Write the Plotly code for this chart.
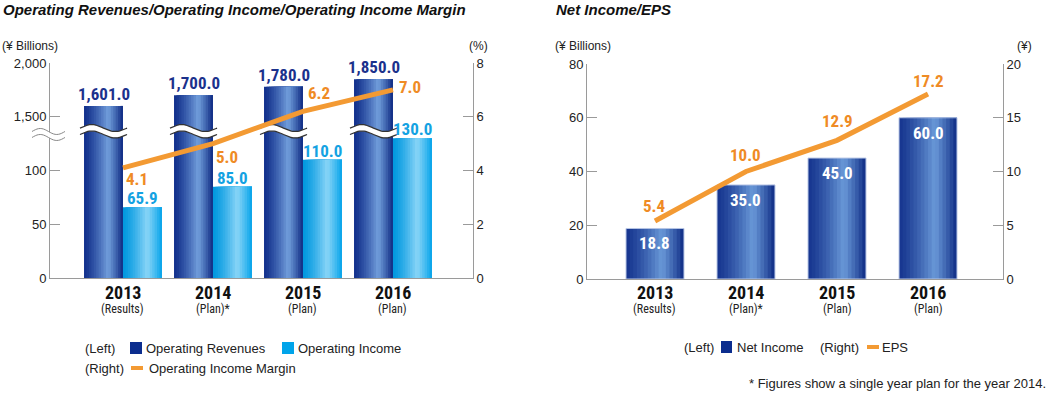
import math
import plotly.graph_objects as go

# ---------------- data ----------------
years = ["2013", "2014", "2015", "2016"]
year_notes = ["(Results)", "(Plan)*", "(Plan)", "(Plan)"]
op_revenues = [1601.0, 1700.0, 1780.0, 1850.0]
op_income = [65.9, 85.0, 110.0, 130.0]
op_margin = [4.1, 5.0, 6.2, 7.0]
net_income = [18.8, 35.0, 45.0, 60.0]
eps = [5.4, 10.0, 12.9, 17.2]

left_tick_values = [0, 50, 100, 1500, 2000]
left_tick_labels = ["0", "50", "100", "1,500", "2,000"]
margin_ticks = [0, 2, 4, 6, 8]
ni_ticks = [0, 20, 40, 60, 80]
eps_ticks = [0, 5, 10, 15, 20]

# ---------------- styles ----------------
W, H = 1050, 395
NARROW = "Liberation Sans Narrow, Arial Narrow, Roboto Condensed, Liberation Sans, Arial"
REG = "Liberation Sans, Arial, Helvetica"
AX = "#9a9a9a"
NAVY_TXT = "#1b318c"
CYAN_TXT = "#14a2e2"
ORANGE = "#f39a33"
ORANGE_TXT = "#ef8b25"

xpos = list(range(len(years)))


def brk(v):
    """Broken left scale: 0-100 on the lower part, 1,500-2,000 on the upper part."""
    return v / 50.0 if v < 1000 else 3.0 + (v - 1500.0) / 500.0


def py(px):
    return 1 - px / H


def px_x(px):
    return px / W


def hex2rgb(h):
    h = h.lstrip("#")
    return [int(h[i:i + 2], 16) for i in (0, 2, 4)]


def mix(c1, c2, f):
    a, b = hex2rgb(c1), hex2rgb(c2)
    return "rgb(%d,%d,%d)" % tuple(round(a[i] + (b[i] - a[i]) * f) for i in range(3))


fig = go.Figure()


def gradient_bars(x, y, off, width, left, peak, right, xa, ya, p=0.62, n=16):
    start = off - width / 2
    dw = width / n
    for k in range(n):
        t = (k + 0.5) / n
        if t <= p:
            col = mix(left, peak, (t / p) ** 1.3)
        else:
            col = mix(right, peak, ((1 - t) / (1 - p)) ** 0.9)
        fig.add_trace(go.Bar(
            x=x, y=y, offset=start + k * dw, width=width - k * dw,
            marker=dict(color=col, line=dict(width=0)),
            xaxis=xa, yaxis=ya, showlegend=False, hoverinfo="skip"))


# ---------------- left chart ----------------
LX0, LX1 = -0.811, 3.889
BW = 0.433
rev_disp = [brk(v) for v in op_revenues]
inc_disp = [brk(v) for v in op_income]
gradient_bars(xpos, rev_disp, -BW / 2, BW, "#12308c", "#729fdc", "#0a2680", "x", "y")
gradient_bars(xpos, inc_disp, BW / 2, BW, "#0098e0", "#8ad5f7", "#00a2ea", "x", "y")

# break marks across the revenue bars (drawn in data units)
BRK_Y = 2.73
AMP = 0.065
HALF = 0.06
for i in xpos:
    xs = [i - BW - 0.045 + (BW + 0.09) * k / 30 for k in range(31)]
    wav = [AMP * math.sin(2 * math.pi * k / 30) for k in range(31)]
    up = [BRK_Y + HALF + w for w in wav]
    lo = [BRK_Y - HALF + w for w in wav]
    fig.add_trace(go.Scatter(x=xs + xs[::-1], y=up + lo[::-1], fill="toself",
                             fillcolor="white", line=dict(width=0), mode="lines",
                             xaxis="x", yaxis="y", showlegend=False, hoverinfo="skip"))
    fig.add_trace(go.Scatter(x=xs + [None] + xs, y=up + [None] + lo, mode="lines",
                             line=dict(color="#333333", width=1.3),
                             xaxis="x", yaxis="y", showlegend=False, hoverinfo="skip"))

fig.add_trace(go.Scatter(x=xpos, y=op_margin, mode="lines",
                         line=dict(color=ORANGE, width=5),
                         xaxis="x", yaxis="y2", showlegend=False, hoverinfo="skip"))

# ---------------- right chart ----------------
RX0, RX1 = -0.747, 3.824
gradient_bars(xpos, net_income, 0, 0.637, "#16358f", "#6a99d8", "#0b2882", "x2", "y3")
fig.add_trace(go.Bar(x=xpos, y=net_income, width=0.637,
                     marker=dict(color="rgba(0,0,0,0)", line=dict(color="#b9c7e6", width=1)),
                     xaxis="x2", yaxis="y3", showlegend=False, hoverinfo="skip"))
fig.add_trace(go.Scatter(x=xpos, y=eps, mode="lines",
                         line=dict(color=ORANGE, width=5),
                         xaxis="x2", yaxis="y4", showlegend=False, hoverinfo="skip"))

ann = []
shapes = []

# value labels
for i, v in enumerate(op_revenues):
    ann.append(dict(x=i - BW / 2, y=brk(v), xref="x", yref="y", text=f"{v:,.1f}",
                    yshift=12, showarrow=False,
                    font=dict(family=NARROW, size=17, color=NAVY_TXT, weight="bold")))
for i, v in enumerate(op_income):
    ann.append(dict(x=i + BW / 2, y=brk(v), xref="x", yref="y", text=f"{v:,.1f}",
                    yshift=9, showarrow=False,
                    font=dict(family=NARROW, size=17, color=CYAN_TXT, weight="bold")))
m_shift = [(14, -11), (14, -13), (16, 18), (17, 3)]
for i, v in enumerate(op_margin):
    ann.append(dict(x=i, y=v, xref="x", yref="y2", text=f"{v:.1f}",
                    xshift=m_shift[i][0], yshift=m_shift[i][1], showarrow=False,
                    font=dict(family=NARROW, size=17, color=ORANGE_TXT, weight="bold")))
for i, v in enumerate(net_income):
    ann.append(dict(x=i, y=v, xref="x2", yref="y3", text=f"{v:.1f}",
                    yshift=-15, showarrow=False,
                    font=dict(family=NARROW, size=17, color="white", weight="bold")))
e_shift = [15, 17, 19, 13]
for i, v in enumerate(eps):
    ann.append(dict(x=i, y=v, xref="x2", yref="y4", text=f"{v:.1f}",
                    yshift=e_shift[i], showarrow=False,
                    font=dict(family=NARROW, size=17, color=ORANGE_TXT, weight="bold")))

# category labels
for xa in ("x", "x2"):
    for i, (yr, note) in enumerate(zip(years, year_notes)):
        ann.append(dict(x=i, y=py(292.5), xref=xa, yref="paper", text=yr, showarrow=False,
                        yanchor="middle",
                        font=dict(family=NARROW, size=18, color="#111", weight="bold")))
        ann.append(dict(x=i, y=py(308.5), xref=xa, yref="paper", text=note, showarrow=False,
                        yanchor="middle",
                        font=dict(family=NARROW, size=12, color="#222")))


def label(x, y, text, size=13, family=REG, anchor="left", **font):
    ann.append(dict(x=px_x(x), y=py(y), xref="paper", yref="paper", text=text,
                    xanchor=anchor, yanchor="middle", showarrow=False,
                    font=dict(family=family, size=size, color=font.get("color", "#222"),
                              weight=font.get("weight", "normal"),
                              style=font.get("style", "normal"))))


# titles and units
label(1, 9, "Operating Revenues/Operating Income/Operating Income Margin", size=15,
      weight="bold", style="italic", color="#111")
label(554, 9, "Net Income/EPS", size=15, weight="bold", style="italic", color="#111")
label(0, 46, "(¥ Billions)", size=12)
label(467, 46, "(%)", size=12)
label(553, 46, "(¥ Billions)", size=12)
label(1015, 46, "(¥)", size=12)

# legends
label(83, 348, "(Left)")
shapes.append(dict(type="rect", xref="paper", yref="paper", x0=px_x(130), x1=px_x(142),
                   y0=py(354), y1=py(342), fillcolor="#0b2d8e", line=dict(width=0)))
label(144, 348, "Operating Revenues")
shapes.append(dict(type="rect", xref="paper", yref="paper", x0=px_x(282), x1=px_x(294),
                   y0=py(354), y1=py(342), fillcolor="#00a4ea", line=dict(width=0)))
label(296, 348, "Operating Income")
label(83, 368, "(Right)")
shapes.append(dict(type="line", xref="paper", yref="paper", x0=px_x(131), x1=px_x(143),
                   y0=py(368), y1=py(368), line=dict(color=ORANGE, width=4)))
label(147, 368, "Operating Income Margin")

label(682, 347, "(Left)")
shapes.append(dict(type="rect", xref="paper", yref="paper", x0=px_x(721), x1=px_x(732),
                   y0=py(353), y1=py(341), fillcolor="#0b2d8e", line=dict(width=0)))
label(735, 347, "Net Income")
label(818, 347, "(Right)")
shapes.append(dict(type="line", xref="paper", yref="paper", x0=px_x(867), x1=px_x(879),
                   y0=py(347), y1=py(347), line=dict(color=ORANGE, width=4)))
label(880, 347, "EPS")
label(1048, 383, "* Figures show a single year plan for the year 2014.", anchor="right")

# axis break mark on the left axis (domain units)
AXW = 423.0
AXH = 215.0
yb = 2.67 / 4.0
xs = [(-18 + 33 * k / 20) / AXW for k in range(21)]
wv = [3.0 / AXH * math.sin(2 * math.pi * k / 20) for k in range(21)]
upv = [yb + 3.0 / AXH + w for w in wv]
lov = [yb - 3.0 / AXH + w for w in wv]


def pth(xx, yy, close=False):
    s = "M " + " L ".join(f"{a:.5f},{b:.5f}" for a, b in zip(xx, yy))
    return s + (" Z" if close else "")


shapes.append(dict(type="path", xref="x domain", yref="y domain",
                   path=pth(xs + xs[::-1], upv + lov[::-1], True),
                   fillcolor="white", line=dict(width=0)))
shapes.append(dict(type="path", xref="x domain", yref="y domain", path=pth(xs, upv),
                   line=dict(color="#888", width=1)))
shapes.append(dict(type="path", xref="x domain", yref="y domain", path=pth(xs, lov),
                   line=dict(color="#888", width=1)))

axis_common = dict(showgrid=False, zeroline=False, showline=True, linecolor=AX, linewidth=1,
                   ticks="inside", ticklen=10, tickcolor=AX, tickwidth=1,
                   tickfont=dict(family=REG, size=13, color="#222"), fixedrange=True)
xcommon = dict(showgrid=False, zeroline=False, showline=True, linecolor=AX, linewidth=1,
               showticklabels=False, ticks="", fixedrange=True)

fig.update_layout(
    width=W, height=H, margin=dict(l=0, r=0, t=0, b=0, autoexpand=False), autosize=False,
    paper_bgcolor="white", plot_bgcolor="white", barmode="overlay", showlegend=False,
    xaxis=dict(domain=[50 / W, 473 / W], range=[LX0, LX1], anchor="y", **xcommon),
    yaxis=dict(domain=[py(278), py(63)], range=[0, 4], anchor="x",
               tickvals=[brk(v) for v in left_tick_values], ticktext=left_tick_labels,
               **axis_common),
    yaxis2=dict(domain=[py(278), py(63)], range=[0, 8], anchor="x", overlaying="y",
                side="right", tickvals=margin_ticks, **axis_common),
    xaxis2=dict(domain=[587 / W, 1003 / W], range=[RX0, RX1], anchor="y3", **xcommon),
    yaxis3=dict(domain=[py(279), py(64)], range=[0, 80], anchor="x2",
                tickvals=ni_ticks, **axis_common),
    yaxis4=dict(domain=[py(279), py(64)], range=[0, 20], anchor="x2", overlaying="y3",
                side="right", tickvals=eps_ticks, **axis_common),
    annotations=ann, shapes=shapes,
)

fig.write_html("out.html", config={"displayModeBar": False},
               post_script="document.body.style.margin='0px';")
